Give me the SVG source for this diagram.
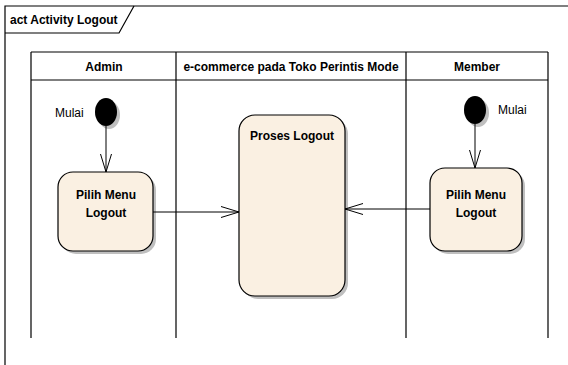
<svg xmlns="http://www.w3.org/2000/svg" width="568" height="365" viewBox="0 0 568 365">
<style>
.t{font-family:"Liberation Sans",Arial,sans-serif;font-size:12px;fill:#000}
.b{font-weight:bold}
.ln{stroke:#000;stroke-width:1.2;fill:none}
.act{fill:#FAF0E2;stroke:#000;stroke-width:1.2}
.sh{fill:#BFBFBF;stroke:none}
.con{stroke:#000;stroke-width:1;fill:none}
</style>
<defs>
<marker id="open" viewBox="0 0 18 12" refX="18" refY="6" markerWidth="18" markerHeight="12" markerUnits="userSpaceOnUse" orient="auto">
<path d="M0,0.5 L18,6 L0,11.5" fill="none" stroke="#000" stroke-width="1"/>
</marker>
</defs>
<rect width="568" height="365" fill="#fff"/>
<g id="frame">
<path class="ln" d="M5,365 V6 H568"/>
<path class="ln" d="M5,33 H119 L134,6"/>
<text class="t b" x="10" y="24">act Activity Logout</text>
</g>
<g id="lanes">
<path class="ln" d="M31,52 H548 M31,80 H548 M31,52 V338 M176,52 V338 M406,52 V338 M548,52 V338"/>
<text class="t b" x="104" y="71" text-anchor="middle">Admin</text>
<text class="t b" x="291" y="71" text-anchor="middle">e-commerce pada Toko Perintis Mode</text>
<text class="t b" x="477" y="71" text-anchor="middle">Member</text>
</g>
<g id="start-admin">
<ellipse class="sh" cx="109" cy="115" rx="11" ry="14"/>
<ellipse cx="106" cy="112" rx="11" ry="14" fill="#000"/>
<text class="t" x="55" y="117">Mulai</text>
</g>
<g id="start-member">
<ellipse class="sh" cx="478" cy="113" rx="11" ry="14"/>
<ellipse cx="475" cy="110" rx="11" ry="14" fill="#000"/>
<text class="t" x="498" y="114">Mulai</text>
</g>
<g id="pilih-admin">
<rect class="sh" x="61" y="175" width="95" height="79" rx="15"/>
<rect class="act" x="58" y="172" width="95" height="79" rx="15"/>
<text class="t b" x="106" y="199" text-anchor="middle">Pilih Menu</text>
<text class="t b" x="106" y="217" text-anchor="middle">Logout</text>
</g>
<g id="proses-logout">
<rect class="sh" x="242" y="118" width="106" height="181" rx="16"/>
<rect class="act" x="239" y="115" width="106" height="181" rx="16"/>
<text class="t b" x="292" y="140" text-anchor="middle">Proses Logout</text>
</g>
<g id="pilih-member">
<rect class="sh" x="433" y="171" width="92" height="83" rx="15"/>
<rect class="act" x="430" y="168" width="92" height="83" rx="15"/>
<text class="t b" x="476" y="199" text-anchor="middle">Pilih Menu</text>
<text class="t b" x="476" y="217" text-anchor="middle">Logout</text>
</g>
<g id="connectors">
<path class="con" d="M106,126 V172" marker-end="url(#open)"/>
<path class="con" d="M475,124 V168" marker-end="url(#open)"/>
<path class="con" d="M153,212 H239" marker-end="url(#open)"/>
<path class="con" d="M430,209 H345" marker-end="url(#open)"/>
</g>
</svg>
